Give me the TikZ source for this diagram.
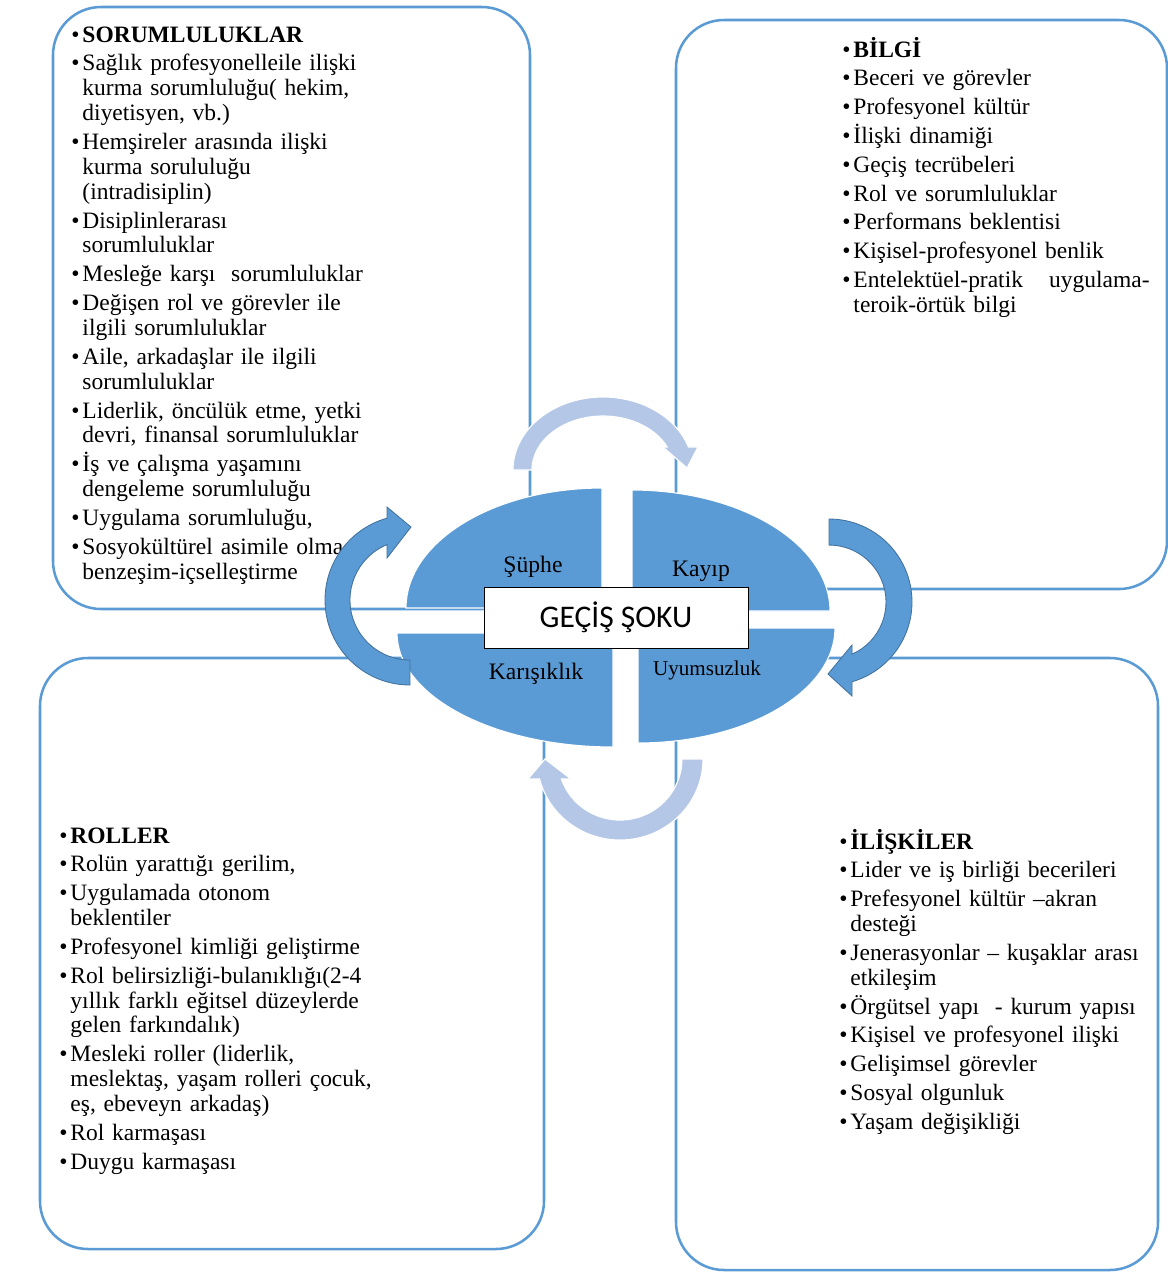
\documentclass[tikz,border=0pt]{standalone}
\usepackage{fontspec}
\setmainfont{Liberation Serif}
\newfontfamily\calibrifont{Carlito}

\definecolor{boxblue}{RGB}{91,155,213}
\definecolor{edgeblue}{RGB}{65,113,156}
\definecolor{paleblue}{RGB}{180,199,231}

\newcommand\bitem[1]{\hangindent=0.28cm\hangafter=1\noindent\makebox[0.28cm][l]{\textbullet}#1\par}

\begin{document}
\begin{tikzpicture}[x=0.025cm,y=0.025cm,
  panel/.style={draw=boxblue,line width=1.8pt,rounded corners=1.2cm,fill=white},
  listtext/.style={anchor=base west,inner sep=0pt,text width=11cm,align=left,
    font=\fontsize{16.7pt}{17.7pt}\selectfont,
    execute at begin node={\setlength{\parskip}{2.8pt}}},
  quarter/.style={fill=boxblue,draw=white,line width=0.8pt},
  quadlabel/.style={anchor=base,inner sep=0pt,font=\fontsize{16.8pt}{18pt}\selectfont},
  darkarrow/.style={fill=boxblue,draw=edgeblue,line width=0.6pt},
  palearrow/.style={fill=paleblue,draw=white,line width=0.8pt}]
  \path[use as bounding box,fill=white] (0,0) rectangle (1167,-1272);

  % Panels
  \draw[panel] (53,-7) rectangle (530,-609);
  \draw[panel] (676,-20) rectangle (1167,-589);
  \draw[panel] (40,-658) rectangle (544,-1249);
  \draw[panel] (676,-658) rectangle (1158,-1270);

  % Lists
  \node[listtext] (sorumlist) at (71,-42) {%
    \bitem{\textbf{SORUMLULUKLAR}}
    \bitem{Sağlık profesyonelleile ilişki\newline kurma sorumluluğu( hekim,\newline diyetisyen, vb.)}
    \bitem{Hemşireler arasında ilişki\newline kurma sorululuğu\newline (intradisiplin)}
    \bitem{Disiplinlerarası\newline sorumluluklar}
    \bitem{Mesleğe karşı\ \ sorumluluklar}
    \bitem{Değişen rol ve görevler ile\newline ilgili sorumluluklar}
    \bitem{Aile, arkadaşlar ile ilgili\newline sorumluluklar}
    \bitem{Liderlik, öncülük etme, yetki\newline devri, finansal sorumluluklar}
    \bitem{İş ve çalışma yaşamını\newline dengeleme sorumluluğu}
    \bitem{Uygulama sorumluluğu,}
    \bitem{Sosyokültürel asimile olma\newline benzeşim-içselleştirme}};
  \node[listtext] (bilgilist) at (842,-57) {%
    \bitem{\textbf{BİLGİ}}
    \bitem{Beceri ve görevler}
    \bitem{Profesyonel kültür}
    \bitem{İlişki dinamiği}
    \bitem{Geçiş tecrübeleri}
    \bitem{Rol ve sorumluluklar}
    \bitem{Performans beklentisi}
    \bitem{Kişisel-profesyonel benlik}
    \bitem{\makebox[7.4cm][l]{Entelektüel-pratik\hfill uygulama-}\newline teroik-örtük bilgi}};
  \node[listtext] (rollist) at (59,-843) {%
    \bitem{\textbf{ROLLER}}
    \bitem{Rolün yarattığı gerilim,}
    \bitem{Uygulamada otonom\newline beklentiler}
    \bitem{Profesyonel kimliği geliştirme}
    \bitem{Rol belirsizliği-bulanıklığı(2-4\newline yıllık farklı eğitsel düzeylerde\newline gelen farkındalık)}
    \bitem{Mesleki roller (liderlik,\newline meslektaş, yaşam rolleri çocuk,\newline eş, ebeveyn arkadaş)}
    \bitem{Rol karmaşası}
    \bitem{Duygu karmaşası}};
  \node[listtext] (iliskilist) at (839,-849) {%
    \bitem{\textbf{İLİŞKİLER}}
    \bitem{Lider ve iş birliği becerileri}
    \bitem{Prefesyonel kültür –akran\newline desteği}
    \bitem{Jenerasyonlar – kuşaklar arası\newline etkileşim}
    \bitem{Örgütsel yapı\ \ - kurum yapısı}
    \bitem{Kişisel ve profesyonel ilişki}
    \bitem{Gelişimsel görevler}
    \bitem{Sosyal olgunluk}
    \bitem{Yaşam değişikliği}};

  % Center ellipse in four parts
  \draw[quarter] (602,-608) -- (406,-608) arc[start angle=180,end angle=90,x radius=196,y radius=120] -- cycle;
  \draw[quarter] (632,-611) -- (632,-490) arc[start angle=90,end angle=0,x radius=198,y radius=121] -- cycle;
  \draw[quarter] (613,-633) -- (397,-633) arc[start angle=180,end angle=270,x radius=216,y radius=114] -- cycle;
  \draw[quarter] (638,-628) -- (835,-628) arc[start angle=0,end angle=-90,x radius=197,y radius=115] -- cycle;

  \node[quadlabel] (suphe) at (533,-572) {Şüphe};
  \node[quadlabel] (kayip) at (701,-576) {Kayıp};
  \node[quadlabel] (karisiklik) at (536,-679) {Karışıklık};
  \node[quadlabel,font=\fontsize{15pt}{17pt}\selectfont] (uyumsuzluk) at (707,-675) {Uyumsuzluk};

  \node[draw=black,fill=white,line width=0.6pt,minimum width=6.6cm,minimum height=1.525cm,
    font=\calibrifont\fontsize{22.4pt}{26pt}\selectfont] (gecis) at (616,-617.5) {GEÇİŞ ŞOKU};

  % Loop arrows
  \begin{scope}[shift={(410,-600)}]
    \draw[darkarrow] (270:85) arc[start angle=270,end angle=105.7,radius=85] -- (-23,93) -- (1,73)
      -- (-23,42) -- (-23,55.4) arc[start angle=112.5,end angle=270,radius=60] -- cycle;
  \end{scope}
  \begin{scope}[shift={(829,-602)}]
    \draw[darkarrow] (90:83) arc[start angle=90,end angle=-73.9,radius=83] -- (23,-94) -- (-1,-72)
      -- (23,-43) -- (23,-52.2) arc[start angle=-66.2,end angle=90,radius=57] -- cycle;
  \end{scope}
  \begin{scope}[shift={(603,-470)}]
    \draw[palearrow] (-90,0) arc[start angle=180,end angle=18.4,x radius=90,y radius=73] -- (95,23) -- (84,2)
      -- (60,23) -- (64.2,23) arc[start angle=25.2,end angle=180,x radius=71,y radius=54] -- cycle;
  \end{scope}
  \begin{scope}[shift={(620,-759)}]
    \draw[palearrow] (83,0) arc[start angle=0,end angle=-165.7,x radius=83,y radius=81] -- (-92,-20) -- (-75,0)
      -- (-49,-20) -- (-58.6,-20) arc[start angle=-160.9,end angle=0,x radius=62,y radius=61] -- cycle;
  \end{scope}
\end{tikzpicture}
\end{document}
